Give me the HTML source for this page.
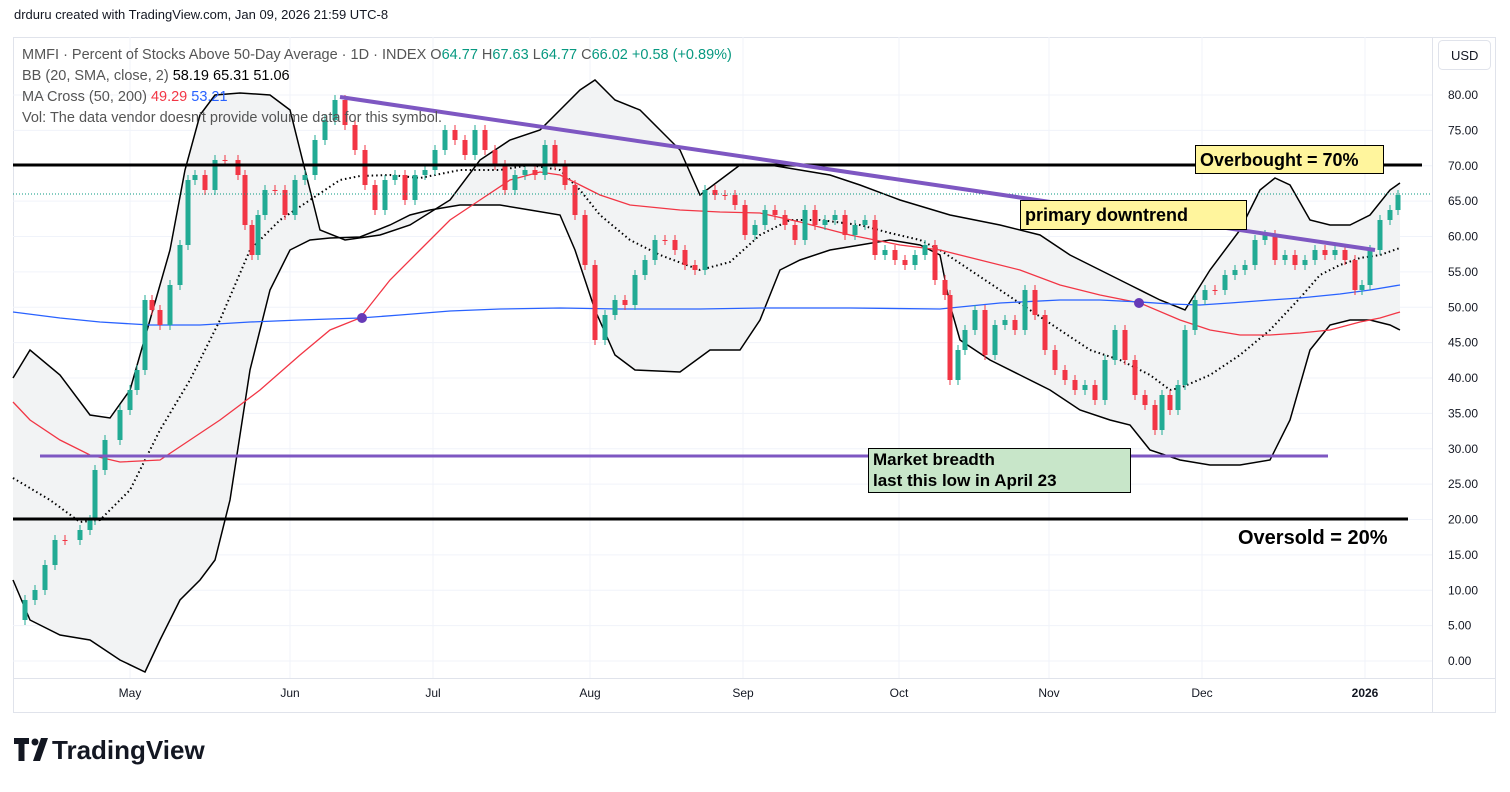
<!DOCTYPE html>
<html><head><meta charset="utf-8"><style>
body{margin:0;background:#fff;width:1510px;height:787px;overflow:hidden;font-family:"Liberation Sans",sans-serif}
</style></head><body>
<svg id="s" width="1510" height="787" xmlns="http://www.w3.org/2000/svg" font-family="Liberation Sans, sans-serif">
<text x="14" y="19" font-size="13" fill="#131722">drduru created with TradingView.com, Jan 09, 2026 21:59 UTC-8</text>
<rect x="13.5" y="37.5" width="1482" height="675" fill="#fff" stroke="#e0e3eb"/>
<g id="grid" stroke="#f0f3fa" stroke-width="1"></g>
<path id="bbfill" fill="#f2f3f4" stroke="none"/>
<polyline id="ub" fill="none" stroke="#000" stroke-width="1.5"/>
<polyline id="lb" fill="none" stroke="#000" stroke-width="1.5"/>
<polyline id="ma20" fill="none" stroke="#000" stroke-width="2" stroke-dasharray="1.5,3"/>
<polyline id="ma50" fill="none" stroke="#f23645" stroke-width="1.3"/>
<polyline id="ma200" fill="none" stroke="#2962ff" stroke-width="1.3"/>
<g id="candles"></g>
<line x1="13" y1="194" x2="1432" y2="194" stroke="#089981" stroke-width="1" stroke-dasharray="1,2"/>
<line x1="13" y1="165" x2="1422" y2="165" stroke="#000" stroke-width="3"/>
<line x1="13" y1="519" x2="1408" y2="519" stroke="#000" stroke-width="3"/>
<line x1="40" y1="456" x2="1328" y2="456" stroke="#7e57c2" stroke-width="3"/>
<line x1="340" y1="97" x2="1375" y2="250" stroke="#7e57c2" stroke-width="4"/>
<circle cx="362" cy="318" r="5" fill="#673ab7"/>
<circle cx="1139" cy="303" r="5" fill="#673ab7"/>
<rect x="1195.5" y="145.5" width="188" height="28" fill="#fff59d" stroke="#000"/>
<text x="1200" y="166" font-size="18" font-weight="bold" fill="#000">Overbought = 70%</text>
<rect x="1020.5" y="200.5" width="226" height="29" fill="#fff59d" stroke="#000"/>
<text x="1025" y="221" font-size="18" font-weight="bold" fill="#000">primary downtrend</text>
<rect x="868.5" y="448.5" width="262" height="44" fill="#c8e6c9" stroke="#000"/>
<text x="873" y="465" font-size="17" font-weight="bold" fill="#000">Market breadth</text>
<text x="873" y="486" font-size="17" font-weight="bold" fill="#000">last this low in April 23</text>
<text x="1238" y="544" font-size="20" font-weight="bold" fill="#000">Oversold = 20%</text>
<g font-size="14.5" fill="#555">
<text x="22" y="59">MMFI · Percent of Stocks Above 50-Day Average · 1D · INDEX  O<tspan fill="#089981">64.77</tspan> H<tspan fill="#089981">67.63</tspan> L<tspan fill="#089981">64.77</tspan> C<tspan fill="#089981">66.02 +0.58 (+0.89%)</tspan></text>
<text x="22" y="80">BB (20, SMA, close, 2)  <tspan fill="#000">58.19  65.31  51.06</tspan></text>
<text x="22" y="101">MA Cross (50, 200)  <tspan fill="#f23645">49.29</tspan>  <tspan fill="#2962ff">53.21</tspan></text>
<text x="22" y="122">Vol: The data vendor doesn't provide volume data for this symbol.</text>
</g>
<line x1="1432.5" y1="37" x2="1432.5" y2="712" stroke="#e0e3eb"/>
<line x1="13" y1="678.5" x2="1496" y2="678.5" stroke="#e0e3eb"/>
<rect x="1438.5" y="40.5" width="52" height="29" rx="4" fill="#fff" stroke="#e0e3eb"/>
<text x="1451" y="60" font-size="13" fill="#131722">USD</text>
<g id="yl" font-size="12" fill="#131722"></g>
<g font-size="12" fill="#131722" text-anchor="middle">
<text x="130" y="697">May</text><text x="290" y="697">Jun</text><text x="433" y="697">Jul</text><text x="590" y="697">Aug</text><text x="743" y="697">Sep</text><text x="899" y="697">Oct</text><text x="1049" y="697">Nov</text><text x="1202" y="697">Dec</text><text x="1365" y="697" font-weight="bold">2026</text>
</g>
<g transform="translate(14,738)">
<path d="M0 0h15v6h-4.5v17h-6v-17h-4.5z" fill="#131722"/><circle cx="21" cy="4" r="3.5" fill="#131722"/><path d="M27 0h7l-8 23h-7z" fill="#131722"/>
<text x="38" y="21" font-size="26" font-weight="bold" fill="#131722">TradingView</text>
</g>
</svg>
<script>
const NS="http://www.w3.org/2000/svg";
function el(t,a,p){const e=document.createElementNS(NS,t);for(const k in a)e.setAttribute(k,a[k]);p.appendChild(e);return e;}
const grid=document.getElementById('grid'),yl=document.getElementById('yl');
for(let v=0;v<=80;v+=5){const y=661-v*7.075;el('line',{x1:13,x2:1432,y1:y,y2:y},grid);const t=el('text',{x:1448,y:y+4},yl);t.textContent=v.toFixed(2);}
[130,290,433,590,743,899,1049,1202,1365].forEach(x=>el('line',{x1:x,x2:x,y1:37,y2:678},grid));
const ub=[[13,378],[30,350],[60,375],[90,415],[110,418],[130,390],[150,320],[170,250],[185,170],[200,115],[215,95],[240,93],[270,95],[290,110],[305,170],[320,230],[345,240],[380,235],[410,225],[450,200],[480,160],[510,140],[540,130],[560,110],[580,90],[595,80],[615,100],[640,110],[660,130],[680,150],[700,195],[720,180],[740,165],[770,165],[800,170],[830,175],[860,185],[900,200],[950,215],[1000,225],[1040,235],[1070,255],[1100,270],[1130,285],[1160,300],[1185,310],[1210,270],[1240,230],[1260,190],[1275,178],[1290,185],[1310,220],[1330,225],[1350,225],[1370,215],[1390,190],[1400,183]];
const lb=[[13,580],[30,620],[60,635],[90,640],[120,660],[145,672],[160,640],[180,600],[200,580],[215,560],[230,500],[250,370],[270,290],[290,250],[310,240],[330,238],[360,237],[390,225],[410,215],[430,210],[460,205],[500,205],[530,210],[560,215],[575,250],[595,310],[615,355],[635,370],[680,372],[710,350],[740,350],[760,320],[780,270],[800,260],[830,250],[860,245],[890,240],[920,245],[940,255],[950,305],[960,340],[990,360],[1020,375],[1050,390],[1080,410],[1110,420],[1130,425],[1150,450],[1180,460],[1210,465],[1240,465],[1270,460],[1290,420],[1310,350],[1330,325],[1350,320],[1370,320],[1390,325],[1400,330]];
const m20=[[13,478],[50,500],[80,522],[100,520],[130,490],[160,430],[190,380],[220,320],[250,250],[280,220],[310,200],[340,180],[360,176],[390,175],[420,178],[460,170],[500,170],[530,165],[560,170],[580,190],[600,215],[630,240],[660,255],[700,270],[730,262],[760,235],[790,220],[820,220],[860,225],[890,233],[920,240],[940,250],[970,270],[1000,290],[1030,310],[1060,330],[1090,350],[1120,360],[1150,375],[1170,390],[1180,388],[1210,375],[1240,355],[1270,330],[1300,298],[1320,275],[1340,265],[1360,258],[1380,255],[1400,248]];
const m50=[[13,402],[30,420],[60,440],[90,455],[120,462],[160,460],[190,440],[220,420],[260,390],[300,355],[330,330],[360,318],[390,280],[420,250],[450,220],[480,200],[510,180],[540,172],[560,175],[580,185],[600,195],[630,205],[680,210],[720,212],[760,213],[800,222],[850,235],[900,245],[940,250],[980,260],[1020,270],[1060,285],[1100,295],[1140,303],[1180,320],[1210,330],[1240,335],[1270,335],[1300,333],[1330,330],[1360,322],[1380,318],[1400,312]];
const m200=[[13,312],[60,318],[100,322],[150,325],[200,325],[250,322],[300,320],[360,318],[400,315],[450,311],[500,309],[560,308],[620,309],[700,309],[760,308],[850,308],[940,309],[1000,303],[1060,300],[1100,300],[1140,302],[1170,304],[1200,305],[1230,303],[1270,300],[1300,298],[1340,294],[1370,290],[1400,285]];
const s=a=>a.map(p=>p.join(',')).join(' ');
document.getElementById('ub').setAttribute('points',s(ub));
document.getElementById('lb').setAttribute('points',s(lb));
document.getElementById('bbfill').setAttribute('d','M'+s(ub)+' L'+s(lb.slice().reverse())+'Z');
document.getElementById('ma20').setAttribute('points',s(m20));
document.getElementById('ma50').setAttribute('points',s(m50));
document.getElementById('ma200').setAttribute('points',s(m200));
const c=[[18,620],[25,600],[35,590],[45,565],[55,540],[65,540],[80,530],[90,520],[95,470],[105,440],[120,410],[130,390],[137,370],[145,300],[152,310],[160,325],[170,285],[180,245],[188,180],[195,175],[205,190],[215,160],[225,160],[238,175],[245,225],[252,255],[258,215],[265,190],[275,190],[285,215],[295,180],[305,175],[315,140],[325,120],[335,100],[345,125],[355,150],[365,185],[375,210],[385,180],[395,175],[405,200],[415,175],[425,170],[435,150],[445,130],[455,140],[465,155],[475,130],[485,150],[495,165],[505,190],[515,175],[525,170],[535,175],[545,145],[555,165],[565,185],[575,215],[585,265],[595,340],[605,315],[615,300],[625,305],[635,275],[645,260],[655,240],[665,240],[675,250],[685,265],[695,270],[705,190],[715,195],[725,195],[735,205],[745,235],[755,225],[765,210],[775,215],[785,225],[795,240],[805,210],[815,225],[825,220],[835,215],[845,235],[855,225],[865,220],[875,255],[885,250],[895,260],[905,265],[915,255],[925,245],[935,280],[945,295],[950,380],[958,350],[965,330],[975,310],[985,355],[995,325],[1005,320],[1015,330],[1025,290],[1035,315],[1045,350],[1055,370],[1065,380],[1075,390],[1085,385],[1095,400],[1105,360],[1115,330],[1125,360],[1135,395],[1145,405],[1155,430],[1162,395],[1170,410],[1178,385],[1185,330],[1195,300],[1205,290],[1215,290],[1225,275],[1235,270],[1245,265],[1255,240],[1265,235],[1275,260],[1285,255],[1295,265],[1305,260],[1315,250],[1325,255],[1335,250],[1345,260],[1355,290],[1362,285],[1370,250],[1380,220],[1390,210],[1398,195]];
const g=document.getElementById('candles');
for(let i=1;i<c.length;i++){const x=c[i][0],o=c[i-1][1],cl=c[i][1];const up=cl<o;const col=up?'#22ab94':'#f23645';
const top=Math.min(o,cl),bot=Math.max(o,cl);
el('line',{x1:x,x2:x,y1:top-5,y2:bot+5,stroke:col,'stroke-width':1},g);
el('rect',{x:x-2.5,y:top,width:5,height:Math.max(1,bot-top),fill:col},g);}
</script>
</body></html>
